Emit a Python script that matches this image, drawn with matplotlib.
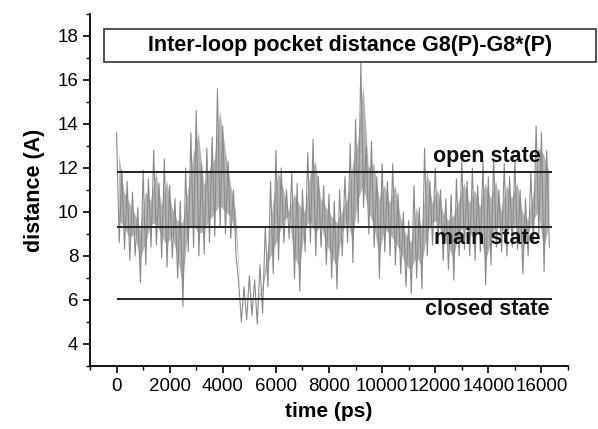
import matplotlib.pyplot as plt
import numpy as np
from matplotlib.patches import Rectangle
from matplotlib.ticker import MultipleLocator

# distance trace: local high / low per 200 ps window
time_ps = np.arange(0, 16400, 200)
dist_hi = [13.6, 11.9, 11.4, 10.9, 10.2, 11.9, 11.5, 12.8, 11.3, 12.4,
           11.2, 10.6, 10.5, 12.0, 13.6, 14.6, 12.2, 12.9, 13.4, 15.6,
           13.9, 12.3, 11.0, 6.8, 6.6, 7.1, 6.9, 7.6, 9.3, 11.4,
           12.8, 12.0, 11.0, 11.8, 11.3, 11.0, 12.7, 13.3, 11.6, 11.2,
           10.8, 10.5, 11.0, 11.6, 13.1, 14.2, 16.8, 13.0, 13.2, 11.6,
           12.2, 11.4, 12.2, 10.8, 10.0, 9.6, 11.2, 10.2, 12.9, 11.4,
           12.0, 11.0, 10.6, 10.8, 11.5, 12.3, 11.4, 12.0, 11.2, 12.3,
           11.6, 12.4, 11.0, 12.2, 11.6, 12.3, 11.0, 10.6, 11.8, 13.9,
           13.6, 12.8]
dist_lo = [8.6, 8.3, 7.8, 8.0, 6.8, 7.6, 8.4, 8.5, 7.9, 7.5,
           7.9, 7.0, 5.7, 8.2, 8.4, 8.0, 8.1, 8.6, 8.9, 9.3,
           9.0, 8.8, 8.0, 5.0, 5.1, 5.3, 4.9, 5.4, 6.6, 7.2,
           7.8, 8.6, 8.8, 7.0, 6.4, 8.2, 8.6, 8.0, 8.4, 7.6,
           7.0, 6.5, 8.0, 8.6, 7.7, 9.5, 10.2, 9.0, 8.4, 7.0,
           8.2, 8.0, 7.6, 7.2, 6.6, 6.3, 7.0, 6.5, 8.0, 8.5,
           8.6, 7.8, 7.4, 6.9, 8.0, 8.3, 8.0, 7.8, 8.2, 6.7,
           7.6, 8.4, 8.2, 8.0, 8.4, 8.3, 7.2, 8.0, 8.6, 9.0,
           7.3, 8.4]

state_levels = [11.8, 9.3, 6.05]
state_names = ['open state', 'main state', 'closed state']
state_label_y = [12.5, 8.8, 5.55]

plt.rcParams['font.family'] = ['Liberation Sans', 'DejaVu Sans']

fig = plt.figure(figsize=(5.98, 4.29), dpi=100)
ax = fig.add_axes([0.1505, 0.147, 0.7993, 0.8204])

hi = np.array(dist_hi)
lo = np.array(dist_lo)

# shaded core + zig-zag between highs and lows to mimic the dense trace
ax.fill_between(time_ps + 100, lo + 1.0, hi - 1.0, where=hi - lo > 2.0,
                color='#b4b4b4', lw=0, interpolate=True)
t = np.column_stack([time_ps, time_ps + 100]).ravel()
d = np.column_stack([hi, lo]).ravel()
ax.plot(t, d, color='#8a8a8a', lw=0.8)

ax.hlines(state_levels, 0, 16400, color='#222222', lw=1.4)
for y, name in zip(state_label_y, state_names):
    ax.text(13950, y, name, ha='center', va='center', fontsize=15.5,
            fontweight='bold', color='#111111')

ax.set_xlim(-1000, 17000)
ax.set_ylim(3, 19)
ax.xaxis.set_minor_locator(MultipleLocator(1000))
ax.yaxis.set_minor_locator(MultipleLocator(1))
ax.set_xticks(np.arange(0, 16001, 2000))
ax.set_yticks(np.arange(4, 19, 2))
ax.tick_params(which='major', direction='out', length=5, width=1.2, labelsize=13.5)
ax.tick_params(which='minor', direction='out', length=3, width=1.0)
for side in ['top', 'right']:
    ax.spines[side].set_visible(False)
for side in ['left', 'bottom']:
    ax.spines[side].set_linewidth(1.3)

ax.set_xlabel('time (ps)', fontsize=15, fontweight='bold', labelpad=5)
ax.set_ylabel('distance (A)', fontsize=15.5, fontweight='bold', labelpad=9)

fig.patches.append(Rectangle((0.174, 0.855), 0.823, 0.077, transform=fig.transFigure,
                             fill=False, edgecolor='#333333', lw=1.2))
fig.text(0.585, 0.893, 'Inter-loop pocket distance G8(P)-G8*(P)', ha='center',
         va='center', fontsize=15.5, fontweight='bold')

fig.savefig('out.png', dpi=100)
